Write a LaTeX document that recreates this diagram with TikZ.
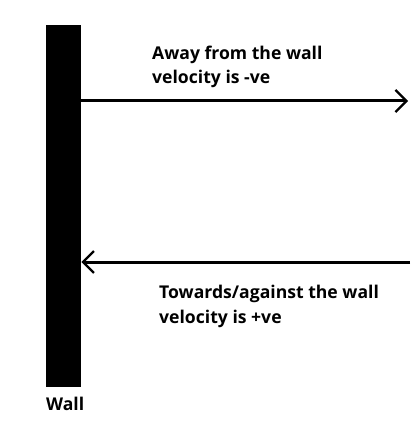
\documentclass[tikz,border=0pt]{standalone}
\usepackage{fontspec}
\setmainfont{Open Sans}
\usetikzlibrary{arrows.meta}
\begin{document}
\begin{tikzpicture}[x=1pt,y=-1pt,
  lbl/.style={font=\bfseries\fontsize{17.6}{24.5}\selectfont, align=left, anchor=base west, inner sep=0pt},
  arr/.style={line width=3pt, -{Straight Barb[length=11pt,width=22pt,line width=2.2pt]}}]
\useasboundingbox (0,0) rectangle (419,427);
\node[fill=black, minimum width=35pt, minimum height=362pt, inner sep=0pt, anchor=north west] (wall) at (46,25) {};
\coordinate (r1) at (408,101);
\coordinate (r2) at (410,262);
\draw[arr] (wall.east |- r1) -- (r1);
\coordinate (w2) at (wall.east |- r2);
\draw[arr] (r2) -- (w2);
\node[lbl] (t1) at (152,84) {Away from the wall\\velocity is -ve};
\node[lbl] (t2) at (159,323) {Towards/against the wall\\velocity is +ve};
\node[lbl] (wl) at (46,410) {Wall};
\end{tikzpicture}
\end{document}
